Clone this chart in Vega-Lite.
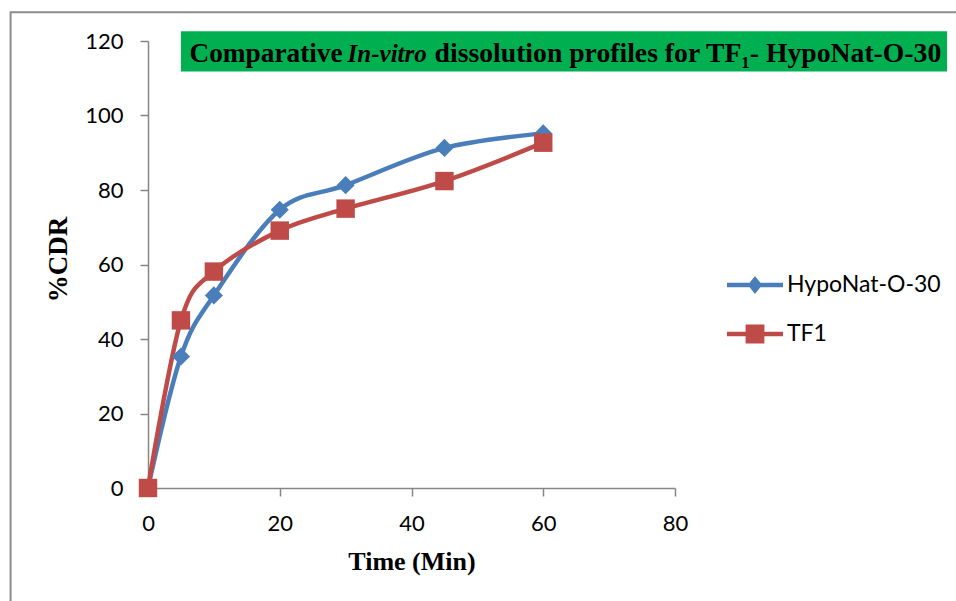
{
  "$schema": "https://vega.github.io/schema/vega-lite/v6.json",
  "width": 527,
  "height": 447,
  "autosize": {"type": "none"},
  "padding": {"left": 148, "top": 41, "right": 281, "bottom": 113},
  "background": "white",
  "config": {"view": {"stroke": null}},
  "datasets": {
    "series": [
      {"time": 0, "cdr": 0, "series": "HypoNat-O-30"},
      {"time": 5, "cdr": 35.3, "series": "HypoNat-O-30"},
      {"time": 10, "cdr": 51.7, "series": "HypoNat-O-30"},
      {"time": 20, "cdr": 74.7, "series": "HypoNat-O-30"},
      {"time": 30, "cdr": 81.3, "series": "HypoNat-O-30"},
      {"time": 45, "cdr": 91.3, "series": "HypoNat-O-30"},
      {"time": 60, "cdr": 95.2, "series": "HypoNat-O-30"},
      {"time": 0, "cdr": 0, "series": "TF1"},
      {"time": 5, "cdr": 45.0, "series": "TF1"},
      {"time": 10, "cdr": 58.1, "series": "TF1"},
      {"time": 20, "cdr": 69.1, "series": "TF1"},
      {"time": 30, "cdr": 75.0, "series": "TF1"},
      {"time": 45, "cdr": 82.4, "series": "TF1"},
      {"time": 60, "cdr": 92.7, "series": "TF1"}
    ]
  },
  "layer": [
    {
      "data": {"values": [{}]},
      "mark": {"type": "rect", "fill": null, "fillOpacity": 0, "stroke": "#8c8c8c", "strokeWidth": 2},
      "encoding": {
        "x": {"datum": -20.86, "type": "quantitative", "scale": {"domain": [0, 80], "nice": false}},
        "x2": {"datum": 200},
        "y": {"datum": 127.7, "type": "quantitative", "scale": {"domain": [0, 120], "nice": false}},
        "y2": {"datum": -100}
      }
    },
    {
      "data": {"values": [{}]},
      "mark": {"type": "rect", "fill": "#00B050"},
      "encoding": {
        "x": {"datum": 5.0, "type": "quantitative"},
        "x2": {"datum": 121.3},
        "y": {"datum": 122.6, "type": "quantitative"},
        "y2": {"datum": 111.8}
      }
    },
    {
      "data": {"values": [{"part": "Comparative"}]},
      "mark": {"type": "text", "font": "Liberation Serif", "fontWeight": "bold", "fontSize": 27.3, "align": "left", "baseline": "alphabetic", "color": "black"},
      "encoding": {
        "x": {"datum": 6.3, "type": "quantitative"},
        "y": {"datum": 114.4, "type": "quantitative"},
        "text": {"field": "part"}
      }
    },
    {
      "data": {"values": [{"part": "In-vitro"}]},
      "mark": {"type": "text", "font": "Liberation Serif", "fontWeight": "bold", "fontStyle": "italic", "fontSize": 25, "align": "left", "baseline": "alphabetic", "color": "black"},
      "encoding": {
        "x": {"datum": 30.3, "type": "quantitative"},
        "y": {"datum": 114.4, "type": "quantitative"},
        "text": {"field": "part"}
      }
    },
    {
      "data": {"values": [{"part": "dissolution profiles for TF₁- HypoNat-O-30"}]},
      "mark": {"type": "text", "font": "Liberation Serif", "fontWeight": "bold", "fontSize": 27.7, "align": "left", "baseline": "alphabetic", "color": "black"},
      "encoding": {
        "x": {"datum": 43.5, "type": "quantitative"},
        "y": {"datum": 114.4, "type": "quantitative"},
        "text": {"field": "part"}
      }
    },
    {
      "data": {"name": "series"},
      "mark": {"type": "line", "interpolate": "cardinal", "strokeWidth": 4.5, "strokeCap": "round", "strokeJoin": "round"},
      "encoding": {
        "x": {
          "field": "time", "type": "quantitative",
          "axis": {
            "values": [0, 20, 40, 60, 80], "grid": false, "labelFlush": false,
            "domainColor": "#868686", "domainWidth": 1.5, "tickColor": "#868686", "tickWidth": 1.5, "tickSize": 8,
            "labelFont": "Lato", "labelFontSize": 22, "labelColor": "black", "labelPadding": 17,
            "title": "Time (Min)", "titleFont": "Liberation Serif", "titleFontWeight": "bold", "titleFontSize": 26, "titleColor": "black", "titlePadding": 14
          }
        },
        "y": {
          "field": "cdr", "type": "quantitative",
          "axis": {
            "values": [0, 20, 40, 60, 80, 100, 120], "grid": false, "labelFlush": false,
            "domainColor": "#868686", "domainWidth": 1.5, "tickColor": "#868686", "tickWidth": 1.5, "tickSize": 8,
            "labelFont": "Lato", "labelFontSize": 22, "labelColor": "black", "labelPadding": 17,
            "title": "%CDR", "titleFont": "Liberation Serif", "titleFontWeight": "bold", "titleFontSize": 27, "titleColor": "black", "titlePadding": 12, "titleY": 218
          }
        },
        "color": {
          "field": "series", "type": "nominal",
          "scale": {"domain": ["HypoNat-O-30", "TF1"], "range": ["#4A7EBB", "#BE4B48"]},
          "legend": {
            "title": null, "orient": "none", "legendX": 587, "legendY": 224, "padding": 0,
            "labelFont": "Lato", "labelFontSize": 23, "labelColor": "black", "labelOffset": 12,
            "symbolSize": 1600, "rowPadding": 17,
            "encode": {
              "symbols": {
                "update": {
                  "shape": {"signal": "datum.value === 'TF1' ? 'M-1.4,-0.11H-0.47V-0.47H0.47V-0.11H1.4V0.11H0.47V0.47H-0.47V0.11H-1.4Z' : 'M-1.4,-0.11H-0.27L0,-0.45L0.27,-0.11H1.4V0.11H0.27L0,0.45L-0.27,0.11H-1.4Z'"},
                  "fill": {"signal": "datum.value === 'TF1' ? '#BE4B48' : '#4A7EBB'"},
                  "stroke": {"value": "transparent"},
                  "strokeWidth": {"value": 0},
                  "opacity": {"value": 1},
                  "fillOpacity": {"value": 1}
                }
              }
            }
          }
        }
      }
    },
    {
      "data": {"name": "series"},
      "transform": [{"filter": "datum.series === 'HypoNat-O-30'"}],
      "mark": {"type": "point", "filled": true, "opacity": 1, "shape": "diamond", "size": 330, "color": "#4A7EBB"},
      "encoding": {
        "x": {"field": "time", "type": "quantitative"},
        "y": {"field": "cdr", "type": "quantitative"}
      }
    },
    {
      "data": {"name": "series"},
      "transform": [{"filter": "datum.series === 'TF1'"}],
      "mark": {"type": "point", "filled": true, "opacity": 1, "shape": "square", "size": 340, "color": "#BE4B48"},
      "encoding": {
        "x": {"field": "time", "type": "quantitative"},
        "y": {"field": "cdr", "type": "quantitative"}
      }
    }
  ]
}
